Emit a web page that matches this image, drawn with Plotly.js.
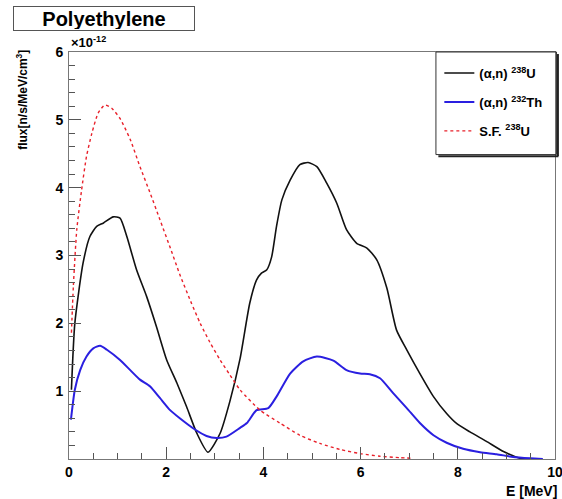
<!DOCTYPE html>
<html><head><meta charset="utf-8">
<script src="https://cdn.plot.ly/plotly-3.0.1.min.js"></script>
<style>html,body{margin:0;padding:0;background:#fff;overflow:hidden;}#chart{width:562px;height:499px;}</style>
</head><body><div id="chart"></div>
<script>
// Energy E [MeV] and flux (units of 1e-12 n/s/MeV/cm^3)
const uAlphaX = [0.05,0.12,0.29,0.43,0.57,0.71,0.91,1.05,1.19,1.39,1.60,1.80,2.01,2.22,2.42,2.63,2.86,3.11,3.31,3.52,3.72,3.86,3.96,4.07,4.17,4.27,4.38,4.55,4.75,4.92,5.10,5.30,5.51,5.71,5.92,6.13,6.33,6.54,6.74,6.95,7.22,7.50,7.77,7.98,8.25,8.59,8.94,9.28,9.40];
const uAlphaY = [1.02,2.00,2.89,3.28,3.43,3.48,3.57,3.55,3.28,2.79,2.39,1.95,1.46,1.12,0.77,0.38,0.10,0.38,0.85,1.48,2.30,2.64,2.74,2.79,2.98,3.43,3.82,4.11,4.34,4.37,4.31,4.07,3.77,3.38,3.18,3.11,2.94,2.52,1.90,1.61,1.26,0.92,0.67,0.52,0.40,0.26,0.11,0.01,0.00];

const thAlphaX = [0.04,0.12,0.23,0.36,0.50,0.64,0.78,1.05,1.26,1.46,1.67,1.87,2.08,2.28,2.56,2.83,3.04,3.24,3.52,3.66,3.86,4.10,4.27,4.55,4.82,5.10,5.44,5.71,5.99,6.19,6.40,6.67,6.95,7.22,7.50,7.77,8.11,8.46,8.80,9.14,9.49,9.75];
const thAlphaY = [0.58,1.02,1.31,1.51,1.63,1.67,1.61,1.46,1.31,1.17,1.07,0.90,0.72,0.60,0.45,0.34,0.31,0.33,0.46,0.53,0.72,0.75,0.92,1.26,1.44,1.51,1.45,1.31,1.26,1.25,1.19,0.97,0.75,0.53,0.35,0.24,0.15,0.10,0.07,0.03,0.01,0.00];

const sfX = [0.05,0.09,0.16,0.26,0.36,0.47,0.60,0.74,0.88,1.05,1.26,1.46,1.67,1.87,2.08,2.28,2.50,2.70,2.90,3.11,3.31,3.52,3.93,4.34,4.75,5.16,5.58,5.99,6.40,6.80,7.06];
const sfY = [1.86,2.55,3.38,3.97,4.46,4.80,5.10,5.22,5.17,5.02,4.71,4.31,3.92,3.53,3.12,2.72,2.33,2.00,1.72,1.46,1.24,1.02,0.72,0.53,0.35,0.23,0.14,0.08,0.04,0.02,0.01];

const seriesNames = ['(α,n) <sup>238</sup>U', '(α,n) <sup>232</sup>Th', 'S.F. <sup>238</sup>U'];
const xTicks = [0,2,4,6,8,10];
const yTicks = [1,2,3,4,5,6];

const FONT = 'Liberation Sans, Arial, sans-serif';

const traces = [
  {x: uAlphaX, y: uAlphaY, name: seriesNames[0], mode: 'lines', legendgroup: 'a',
   line: {color: '#111111', width: 1.6, shape: 'spline', smoothing: 0.6}},
  {x: thAlphaX, y: thAlphaY, name: seriesNames[1], mode: 'lines', legendgroup: 'b',
   line: {color: '#2a1fe0', width: 2, shape: 'spline', smoothing: 0.6}},
  {x: sfX, y: sfY, name: seriesNames[2], mode: 'lines', legendgroup: 'c',
   line: {color: '#e8202a', width: 1.4, dash: 'dot', shape: 'spline', smoothing: 0.6}}
];

const layout = {
  width: 562, height: 499,
  margin: {l: 69, r: 7, t: 52, b: 40},
  paper_bgcolor: '#fff', plot_bgcolor: '#fff',
  font: {family: FONT, color: '#000'},
  showlegend: true,
  legend: {x: 0.762, y: 0.985, xanchor: 'left', yanchor: 'top',
           bgcolor: 'rgba(0,0,0,0)', borderwidth: 0,
           font: {family: FONT, size: 13, weight: 'bold', color: '#000'},
           traceorder: 'grouped', tracegroupgap: 9, itemwidth: 30},
  xaxis: {range: [0, 10], tickvals: xTicks, ticks: 'inside', ticklen: 12, tickcolor: '#555',
          showline: true, linecolor: '#777', linewidth: 1, mirror: true, showgrid: false, zeroline: false,
          tickfont: {family: FONT, size: 14, weight: 'bold'}, ticklabeloverflow: 'allow',
          minor: {dtick: 0.5, ticks: 'inside', ticklen: 6, tickcolor: '#555', showgrid: false}},
  yaxis: {range: [0, 6], tickvals: yTicks, ticks: 'inside', ticklen: 12, tickcolor: '#555',
          showline: true, linecolor: '#777', linewidth: 1, mirror: true, showgrid: false, zeroline: false,
          tickfont: {family: FONT, size: 14, weight: 'bold'}, ticklabelstandoff: 2,
          minor: {dtick: 0.2, ticks: 'inside', ticklen: 6, tickcolor: '#555', showgrid: false}},
  shapes: [
    {type: 'rect', xref: 'paper', yref: 'paper', x0: 0.755, x1: 1.003, y0: 0.748, y1: 1.0,
     line: {color: '#333', width: 1}, fillcolor: 'rgba(255,255,255,0)'},
    {type: 'line', xref: 'paper', yref: 'paper', x0: 1.006, x1: 1.006, y0: 0.744, y1: 0.995,
     line: {color: '#222', width: 2}},
    {type: 'line', xref: 'paper', yref: 'paper', x0: 0.76, x1: 1.007, y0: 0.744, y1: 0.744,
     line: {color: '#222', width: 2}}
  ],
  annotations: [
    {text: 'Polyethylene', xref: 'paper', yref: 'paper', x: 0.072, y: 1.083,
     xanchor: 'center', yanchor: 'middle', showarrow: false, width: 178, height: 21,
     bordercolor: '#555', borderwidth: 1, borderpad: 1, bgcolor: '#fff',
     font: {family: FONT, size: 20, weight: 'bold', color: '#000'}},
    {text: '×10<sup>-12</sup>', xref: 'paper', yref: 'paper', x: 0.0, y: 1.0,
     xanchor: 'left', yanchor: 'bottom', showarrow: false,
     font: {family: FONT, size: 13, weight: 'bold', color: '#000'}},
    {text: 'flux[n/s/MeV/cm<sup>3</sup>]', xref: 'paper', yref: 'paper', x: -0.097, y: 1.01,
     xanchor: 'center', yanchor: 'top', textangle: -90, showarrow: false,
     font: {family: FONT, size: 12, weight: 'bold', color: '#000'}},
    {text: 'E [MeV]', xref: 'paper', yref: 'paper', x: 1.006, y: -0.078,
     xanchor: 'right', yanchor: 'middle', showarrow: false, borderpad: 0,
     font: {family: FONT, size: 14, weight: 'bold', color: '#000'}}
  ]
};

Plotly.newPlot('chart', traces, layout, {displayModeBar: false, staticPlot: true});
</script>
</body></html>
